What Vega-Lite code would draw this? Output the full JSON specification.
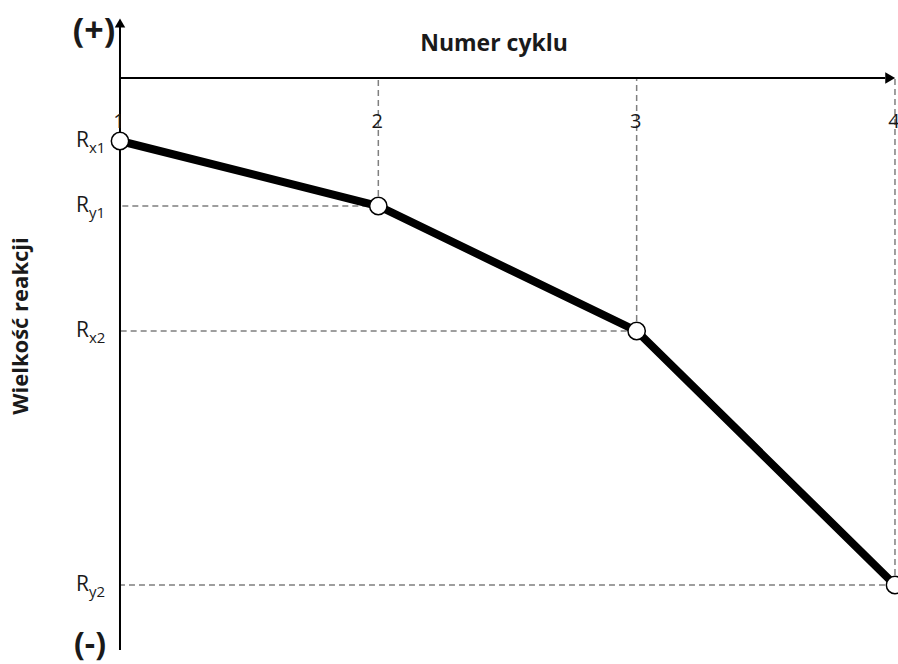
{
  "$schema": "https://vega.github.io/schema/vega-lite/v6.json",
  "width": 898,
  "height": 664,
  "autosize": {"type": "none"},
  "padding": 0,
  "background": "white",
  "config": {"view": {"stroke": null}, "axis": {"disable": true}, "text": {"font": "Open Sans", "color": "#1a1a1a"}},
  "data": {"values": [
    {"cycle": 1, "reaction": 523, "sub": "x1"},
    {"cycle": 2, "reaction": 458, "sub": "y1"},
    {"cycle": 3, "reaction": 333, "sub": "x2"},
    {"cycle": 4, "reaction": 79, "sub": "y2"}
  ]},
  "layer": [
    {
      "mark": {"type": "rule", "color": "#7f7f7f", "strokeWidth": 1.5, "strokeDash": [6, 4]},
      "encoding": {
        "x": {"field": "cycle", "type": "quantitative", "scale": {"domain": [0.5355, 4.0117], "nice": false, "zero": false}, "axis": null},
        "y": {"field": "reaction", "type": "quantitative", "scale": {"domain": [0, 664], "nice": false, "zero": false}, "axis": null},
        "y2": {"datum": 586}
      }
    },
    {
      "mark": {"type": "rule", "color": "#7f7f7f", "strokeWidth": 1.5, "strokeDash": [6, 4]},
      "encoding": {
        "x": {"field": "cycle", "type": "quantitative"},
        "x2": {"datum": 1},
        "y": {"field": "reaction", "type": "quantitative"}
      }
    },
    {
      "data": {"values": [{}]},
      "mark": {"type": "rule", "color": "black", "strokeWidth": 2},
      "encoding": {
        "x": {"datum": 1},
        "x2": {"datum": 3.962},
        "y": {"datum": 586}
      }
    },
    {
      "data": {"values": [{}]},
      "mark": {"type": "rule", "color": "black", "strokeWidth": 2},
      "encoding": {
        "x": {"datum": 1},
        "y": {"datum": 14},
        "y2": {"datum": 638}
      }
    },
    {
      "data": {"values": [{}]},
      "mark": {"type": "point", "shape": "triangle-right", "filled": true, "color": "black", "size": 130, "opacity": 1},
      "encoding": {
        "x": {"datum": 3.9815},
        "y": {"datum": 586}
      }
    },
    {
      "data": {"values": [{}]},
      "mark": {"type": "point", "shape": "triangle-up", "filled": true, "color": "black", "size": 110, "opacity": 1},
      "encoding": {
        "x": {"datum": 1},
        "y": {"datum": 641}
      }
    },
    {
      "mark": {"type": "line", "color": "black", "strokeWidth": 8},
      "encoding": {
        "x": {"field": "cycle", "type": "quantitative"},
        "y": {"field": "reaction", "type": "quantitative"}
      }
    },
    {
      "mark": {"type": "point", "shape": "circle", "filled": true, "fill": "white", "stroke": "black", "strokeWidth": 1.5, "size": 300, "opacity": 1},
      "encoding": {
        "x": {"field": "cycle", "type": "quantitative"},
        "y": {"field": "reaction", "type": "quantitative"}
      }
    },
    {
      "mark": {"type": "text", "fontSize": 20, "dx": -1, "dy": 44, "align": "center", "baseline": "middle"},
      "encoding": {
        "x": {"field": "cycle", "type": "quantitative"},
        "y": {"datum": 586},
        "text": {"field": "cycle", "type": "quantitative"}
      }
    },
    {
      "mark": {"type": "text", "fontSize": 21, "dx": -31, "dy": 0, "align": "right", "baseline": "middle", "text": "R"},
      "encoding": {
        "x": {"datum": 1},
        "y": {"field": "reaction", "type": "quantitative"}
      }
    },
    {
      "mark": {"type": "text", "fontSize": 15, "dx": -31, "dy": 7, "align": "left", "baseline": "middle"},
      "encoding": {
        "x": {"datum": 1},
        "y": {"field": "reaction", "type": "quantitative"},
        "text": {"field": "sub", "type": "nominal"}
      }
    },
    {
      "data": {"values": [{"t": "Numer cyklu"}]},
      "mark": {"type": "text", "fontSize": 23, "fontWeight": "bold", "dy": -34, "align": "center", "baseline": "middle"},
      "encoding": {
        "x": {"datum": 2.448},
        "y": {"datum": 586},
        "text": {"field": "t", "type": "nominal"}
      }
    },
    {
      "data": {"values": [{"t": "(+)"}]},
      "mark": {"type": "text", "fontSize": 34, "fontWeight": "bold", "dx": -26, "dy": -46, "align": "center", "baseline": "middle"},
      "encoding": {
        "x": {"datum": 1},
        "y": {"datum": 586},
        "text": {"field": "t", "type": "nominal"}
      }
    },
    {
      "data": {"values": [{"t": "(-)"}]},
      "mark": {"type": "text", "fontSize": 32, "fontWeight": "bold", "dx": -30, "dy": -5, "align": "center", "baseline": "middle"},
      "encoding": {
        "x": {"datum": 1},
        "y": {"datum": 14},
        "text": {"field": "t", "type": "nominal"}
      }
    },
    {
      "data": {"values": [{"t": "Wielkość reakcji"}]},
      "mark": {"type": "text", "fontSize": 22, "fontWeight": "bold", "angle": 270, "dy": -99, "align": "center", "baseline": "middle"},
      "encoding": {
        "x": {"datum": 1},
        "y": {"datum": 338},
        "text": {"field": "t", "type": "nominal"}
      }
    }
  ]
}
